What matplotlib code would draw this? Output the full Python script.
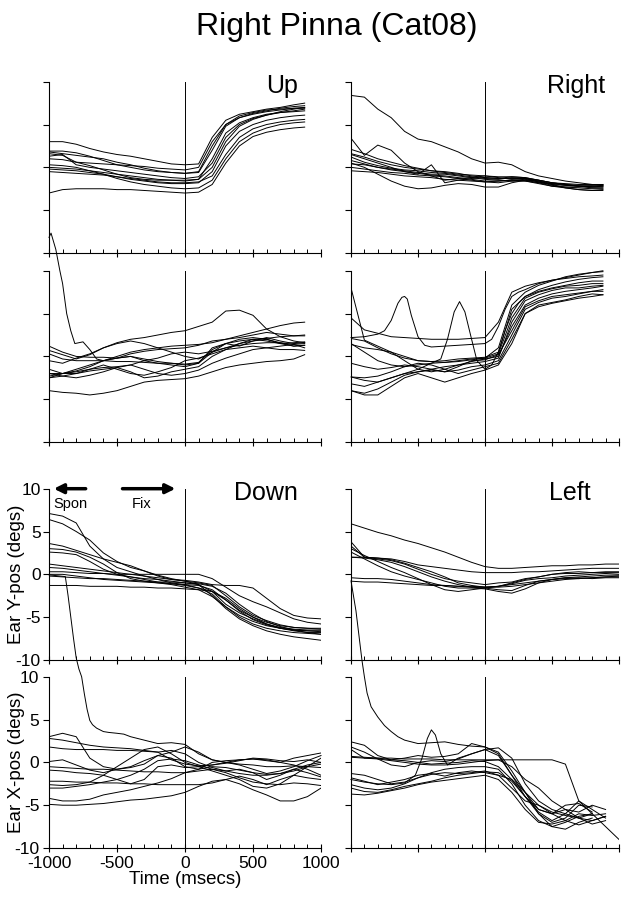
import numpy as np
import matplotlib
matplotlib.use('Agg')
import matplotlib.pyplot as plt
from matplotlib.ticker import MultipleLocator

plt.rcParams['font.family'] = ['Liberation Sans', 'DejaVu Sans']
plt.rcParams['axes.unicode_minus'] = False

nan = np.nan

# time grids (msecs)
t_top = [-1000, -900, -800, -700, -600, -500, -400, -300, -200, -100,
         0, 100, 200, 300, 400, 500, 600, 700, 800, 880]
t_bot = [-1000, -900, -800, -700, -600, -500, -400, -300, -200, -100,
         0, 100, 200, 300, 400, 500, 600, 700, 800, 900, 1000]

# ---- Up : ear Y-pos traces (degs)
up_y = [
    [3.0, 3.0, 2.7, 2.2, 1.8, 1.5, 1.3, 1.0, 0.7, 0.4, 0.3, 0.4, 3.5, 5.5, 6.2, 6.5, 6.8, 7.0, 7.3, 7.5],
    [1.9, 1.9, 1.7, 1.3, 0.8, 0.3, 0.0, -0.3, -0.5, -0.6, -0.7, -0.6, 2.0, 4.8, 5.8, 6.3, 6.6, 6.9, 7.1, 7.2],
    [1.6, 1.4, 0.6, 0.5, 0.4, 0.3, 0.2, 0.1, -0.1, -0.2, -0.3, 0.0, 3.0, 5.0, 5.8, 6.2, 6.5, 6.7, 6.9, 7.0],
    [1.3, 1.5, 0.3, 0.0, -0.2, -0.4, -0.6, -0.8, -1.0, -1.2, -1.3, -1.1, 0.5, 3.5, 5.0, 5.7, 6.1, 6.4, 6.6, 6.8],
    [1.0, 0.9, 0.6, 0.2, -0.3, -0.8, -1.2, -1.4, -1.5, -1.5, -1.5, -1.4, 0.0, 3.0, 4.8, 5.6, 6.1, 6.5, 6.8, 7.0],
    [0.0, -0.1, -0.2, -0.4, -0.6, -0.8, -1.0, -1.2, -1.4, -1.5, -1.6, -1.4, 1.0, 4.0, 5.2, 5.8, 6.2, 6.4, 6.5, 6.6],
    [-0.2, -0.3, -0.4, -0.6, -0.8, -1.1, -1.4, -1.6, -1.8, -1.9, -1.9, -1.8, -0.5, 2.5, 4.2, 5.0, 5.5, 5.8, 6.0, 6.1],
    [-0.5, -0.6, -0.7, -0.8, -0.9, -1.1, -1.3, -1.5, -1.7, -1.8, -1.8, -1.7, -1.0, 1.5, 3.5, 4.5, 5.0, 5.3, 5.5, 5.6],
    [-3.0, -2.6, -2.5, -2.5, -2.5, -2.6, -2.6, -2.7, -2.8, -2.9, -3.0, -2.9, -2.0, 0.5, 2.5, 3.6, 4.1, 4.4, 4.6, 4.7],
    [0.3, 0.2, 0.0, -0.4, -0.8, -1.3, -1.7, -2.0, -2.2, -2.4, -2.5, -2.4, -1.5, 1.0, 3.0, 4.0, 4.6, 5.0, 5.2, 5.3],
    [1.8, 1.6, 1.4, 1.2, 1.0, 0.6, 0.3, -0.1, -0.4, -0.6, -0.7, -0.5, 2.5, 5.0, 6.0, 6.4, 6.7, 6.8, 6.9, 6.9],
]
# ---- Up : ear X-pos traces
up_x = [
    [0.7, 0.2, -0.3, 0.2, 1.0, 1.6, 2.0, 2.2, 2.5, 2.8, 3.0, 3.5, 4.0, 5.3, 5.4, 4.8, 3.2, 2.3, 1.8, 1.6],
    [-2.3, -2.0, -1.5, -1.0, -0.5, 0.0, 0.5, 0.8, 1.0, 1.2, 1.3, 1.4, 1.6, 2.0, 2.4, 2.8, 3.2, 3.6, 3.9, 4.0],
    [1.2, 0.5, 0.0, -0.1, -0.1, -0.2, 0.0, -0.5, -0.8, -1.0, -1.2, -0.8, 1.0, 1.5, 1.2, 1.8, 2.2, 1.8, 1.5, 1.6],
    [-0.5, -0.8, -0.2, 0.3, 1.0, 1.5, 1.8, 1.5, 1.0, 0.5, 0.0, -0.3, 0.5, 1.5, 2.0, 2.2, 2.0, 1.5, 1.2, 1.3],
    [-2.0, -2.0, -1.7, -1.2, -0.5, -0.2, 0.0, -0.3, -0.6, -0.8, -1.0, -0.8, 0.5, 1.0, 1.3, 1.5, 1.6, 1.6, 1.4, 1.5],
    [-2.5, -2.3, -2.0, -1.5, -1.0, -1.5, -2.0, -2.2, -1.8, -1.3, -0.5, -0.2, 0.3, 0.8, 1.0, 1.2, 1.0, 1.2, 1.4, 1.0],
    [-4.0, -4.2, -4.3, -4.5, -4.3, -4.0, -3.5, -3.0, -2.8, -2.7, -2.6, -2.3, -1.8, -1.3, -1.0, -0.8, -0.6, -0.5, -0.3, 0.2],
    [-1.5, -2.0, -2.0, -1.7, -1.5, -1.3, -1.0, -1.5, -2.0, -2.2, -2.0, -1.6, -0.8, -0.2, 0.3, 0.8, 1.0, 0.8, 0.8, 0.7],
    [-2.0, -2.3, -2.5, -2.2, -1.8, -1.3, -1.8, -2.5, -2.3, -1.8, -1.5, -1.2, 0.0, 0.8, 1.5, 2.0, 1.8, 1.5, 1.6, 1.7],
    [0.3, -0.3, -0.5, -0.5, -0.5, -0.6, -0.6, -0.7, -0.8, -0.8, -0.9, -0.7, 0.8, 1.5, 1.8, 2.0, 2.1, 2.3, 2.4, 2.5],
    [-2.5, -2.0, -1.8, -1.5, -1.3, -1.2, -1.0, -0.5, -0.2, 0.3, 0.5, 0.3, 0.6, 1.0, 1.5, 1.8, 2.0, 1.6, 1.2, 1.3],
]
up_spike_t = [-1000, -985, -950, -920, -900, -870, -840, -810, -780, -750, -700, -650, -600, -500,
              -400, -300, -200, -100, 0, 100, 200, 300, 400, 500, 600, 700, 800, 880]
up_spike = [13.9, 14.4, 12.5, 10.0, 8.5, 5.0, 3.0, 1.5, 1.6, 1.7, 0.8, -0.3, -0.5, -0.2,
            0.3, 0.6, 0.8, 0.9, 1.0, 1.3, 1.8, 2.0, 2.2, 2.5, 2.8, 2.6, 2.4, 2.4]

# ---- Right : ear Y-pos traces
right_y = [
    [8.4, 8.2, 6.8, 5.8, 4.2, 3.3, 3.0, 2.4, 1.8, 1.0, 0.5, 0.6, 0.3, -0.5, -1.0, -1.3, -1.6, -1.8, -2.0, -2.1],
    [3.4, 1.4, 2.6, 2.0, 0.5, -0.5, -1.0, -1.5, -1.3, -1.2, -1.0, -1.2, -1.4, -1.3, -1.5, -1.8, -2.0, -2.2, -2.3, -2.3],
    [1.5, 1.0, 0.5, 0.0, -0.5, -0.8, 0.3, -1.8, -1.5, -1.3, -1.2, -1.3, -1.1, -1.2, -1.5, -1.8, -2.0, -2.2, -2.2, -2.2],
    [0.5, 0.0, -0.8, -1.6, -2.2, -2.5, -2.4, -2.1, -1.9, -2.0, -2.3, -2.3, -1.8, -1.5, -1.6, -2.0, -2.4, -2.6, -2.7, -2.6],
    [2.1, 1.6, 1.0, 0.6, 0.2, -0.1, -0.4, -0.6, -0.8, -0.9, -1.0, -1.1, -1.1, -1.2, -1.5, -1.8, -1.9, -2.0, -2.0, -2.0],
    [1.6, 1.2, 0.7, 0.3, 0.0, -0.2, -0.4, -0.5, -0.7, -1.0, -1.2, -1.3, -1.3, -1.3, -1.6, -1.9, -2.1, -2.2, -2.3, -2.2],
    [1.2, 0.6, 0.2, -0.1, -0.3, -0.4, -0.6, -0.7, -0.9, -1.1, -1.3, -1.4, -1.2, -1.3, -1.7, -2.0, -2.1, -2.2, -2.4, -2.4],
    [0.8, 0.4, 0.0, -0.2, -0.4, -0.6, -0.8, -0.8, -1.0, -1.2, -1.4, -1.5, -1.6, -1.6, -1.8, -1.9, -2.0, -2.1, -2.1, -2.0],
    [0.4, 0.3, 0.0, -0.3, -0.5, -0.7, -0.9, -1.0, -1.2, -1.4, -1.6, -1.6, -1.5, -1.4, -1.7, -2.1, -2.3, -2.4, -2.5, -2.5],
    [0.0, -0.2, -0.4, -0.6, -0.7, -0.9, -1.0, -1.1, -1.3, -1.5, -1.7, -1.8, -1.6, -1.5, -1.8, -2.2, -2.4, -2.6, -2.7, -2.7],
    [-0.4, -0.5, -0.6, -0.8, -1.0, -1.1, -1.2, -1.4, -1.5, -1.6, -1.7, -1.6, -1.5, -1.6, -1.9, -2.2, -2.3, -2.3, -2.2, -2.1],
]
# ---- Right : ear X-pos traces
right_x = [
    [8.0, 1.9, 1.2, 0.5, 0.0, -0.5, -0.6, -0.7, -0.6, -0.4, -0.2, 1.0, 6.0, 7.5, 8.3, 8.8, 9.3, 9.6, 9.8, 9.9],
    [4.5, 3.1, 2.7, 2.3, 2.2, 2.1, 2.0, 2.0, 2.0, 2.1, 2.2, 4.0, 7.5, 8.2, 8.6, 8.9, 9.1, 9.3, 9.4, 9.5],
    [2.1, 1.8, 1.0, 0.3, -0.2, -0.5, -0.6, -0.5, -0.3, -0.2, -0.1, 0.5, 5.5, 7.0, 7.6, 8.0, 8.3, 8.6, 8.8, 8.8],
    [1.5, 0.5, -0.5, -1.0, -1.2, -1.0, -0.8, -0.7, -0.5, -0.3, -0.2, 0.3, 4.5, 6.8, 7.5, 7.9, 8.2, 8.3, 8.5, 8.5],
    [1.4, 1.0, 0.8, 0.5, -0.5, -1.5, -1.8, -1.5, -1.0, -0.6, -0.3, 0.0, 3.5, 6.0, 6.8, 7.3, 7.6, 7.8, 8.0, 8.2],
    [-0.8, -1.2, -1.5, -1.3, -1.0, -1.2, -1.5, -1.8, -1.2, -0.5, -0.4, 0.2, 3.0, 5.8, 6.5, 7.0, 7.2, 7.4, 7.6, 7.6],
    [-2.4, -2.5, -2.3, -1.8, -1.2, -0.8, -1.0, -1.5, -2.0, -1.6, -1.2, -0.8, 2.0, 5.0, 6.0, 6.3, 6.6, 7.0, 7.3, 7.2],
    [-3.2, -3.5, -3.0, -2.5, -2.0, -1.8, -1.5, -1.2, -1.0, -0.8, -0.6, -0.2, 4.0, 6.5, 7.2, 7.7, 8.0, 8.0, 8.2, 8.3],
    [-4.0, -4.3, -3.8, -3.0, -2.2, -1.8, -1.6, -1.8, -1.6, -1.2, -1.0, -0.5, 2.5, 5.5, 6.3, 6.8, 7.0, 7.3, 7.6, 7.8],
    [-4.0, -4.5, -4.5, -3.5, -2.5, -2.0, -2.5, -3.0, -2.5, -2.0, -1.6, -1.0, 1.5, 5.0, 5.8, 6.2, 6.5, 6.8, 7.0, 7.2],
]
# two X-pos traces with sharp peaks before the stimulus (finer time steps)
right_peak1_t = [-1000, -900, -800, -750, -700, -650, -620, -600, -580, -550, -500, -450, -400, -300,
                 -200, -100, 0, 50, 100, 150, 200, 250, 300, 400, 500, 600, 700, 800, 880]
right_peak1 = [2.2, 2.3, 2.6, 3.0, 4.2, 6.2, 6.9, 7.0, 6.7, 4.8, 2.3, 1.3, 1.1, 1.2,
               1.3, 1.4, 1.5, 2.0, 3.5, 5.5, 7.0, 7.5, 7.8, 8.5, 8.9, 9.2, 9.5, 9.8, 10.0]
right_peak2_t = [-1000, -900, -800, -700, -600, -500, -400, -330, -280, -230, -190, -150, -100, -60,
                 0, 50, 100, 150, 200, 250, 300, 400, 500, 600, 700, 800, 880]
right_peak2 = [-2.4, -2.8, -3.0, -2.5, -2.0, -1.5, -0.8, -0.3, 2.0, 5.2, 6.4, 5.2, 2.0, -0.5,
               -1.5, -1.0, 0.5, 3.0, 5.0, 6.2, 7.0, 7.8, 8.3, 8.7, 9.0, 9.2, 9.3]

# ---- Down : ear Y-pos traces
down_y = [
    [7.1, 6.8, 6.0, 3.3, 1.8, 0.8, 0.3, -0.2, -0.6, -1.0, -1.2, -1.6, -2.3, -3.8, -5.0, -5.8, -6.3, -6.6, -6.8, -6.9, -7.0],
    [6.4, 5.9, 5.0, 4.0, 2.5, 1.5, 0.8, 0.4, -0.2, -0.6, -0.8, -1.0, -1.3, -2.5, -3.8, -4.8, -5.4, -5.9, -6.2, -6.3, -6.4],
    [3.6, 3.3, 2.8, 2.3, 1.8, 1.4, 1.0, 0.4, -0.1, -0.5, -0.8, -1.2, -2.0, -3.5, -4.5, -5.2, -5.8, -6.2, -6.4, -6.5, -6.5],
    [3.0, 2.9, 2.6, 2.0, 1.2, 0.2, -0.5, -0.8, -1.0, -1.2, -1.5, -1.8, -2.6, -3.8, -4.8, -5.5, -6.0, -6.3, -6.5, -6.6, -6.6],
    [2.6, 2.5, 2.3, 1.5, 0.6, 0.0, -0.3, -0.6, -0.9, -1.1, -1.3, -1.6, -2.0, -2.8, -4.0, -5.0, -5.8, -6.3, -6.6, -6.8, -6.8],
    [1.2, 1.0, 0.8, 0.6, 0.4, 0.2, 0.0, -0.2, -0.4, -0.6, -0.7, -0.9, -1.2, -1.3, -1.3, -1.6, -2.8, -4.0, -4.8, -5.1, -5.2],
    [0.8, 0.7, 0.5, 0.3, 0.1, -0.1, -0.3, -0.5, -0.6, -0.8, -1.0, -1.1, -1.4, -2.2, -3.5, -4.6, -5.5, -6.1, -6.5, -6.8, -7.0],
    [0.3, 0.3, 0.2, 0.1, 0.1, 0.0, 0.0, 0.0, 0.0, 0.0, 0.0, 0.0, -0.5, -1.5, -2.5, -3.2, -3.8, -4.5, -5.2, -5.6, -5.8],
    [0.0, 0.0, -0.2, -0.4, -0.6, -0.7, -0.8, -0.9, -1.0, -1.1, -1.2, -1.3, -1.8, -3.0, -4.2, -5.0, -5.6, -6.0, -6.2, -6.3, -6.3],
    [-0.2, -0.3, -0.4, -0.5, -0.5, -0.6, -0.7, -0.8, -0.9, -0.9, -1.0, -1.2, -2.5, -4.0, -5.2, -6.0, -6.6, -7.0, -7.3, -7.5, -7.7],
    [-1.3, -1.3, -1.3, -1.4, -1.4, -1.4, -1.5, -1.5, -1.6, -1.6, -1.7, -1.8, -2.0, -3.0, -4.3, -5.3, -5.9, -6.3, -6.5, -6.6, -6.7],
]
# ---- Down : ear X-pos traces
down_x = [
    [3.0, 3.4, 3.0, 0.5, -0.5, -0.8, -0.6, -0.2, 0.8, 0.5, -0.5, -0.8, 0.0, 0.2, 0.3, 0.4, 0.2, 0.0, 0.5, 0.8, 1.1],
    [2.8, 2.6, 2.3, 2.0, 1.8, 1.7, 1.6, 1.4, 1.2, 1.4, 1.0, 0.0, -0.6, -1.0, -0.8, -1.2, -2.0, -1.5, -0.8, -1.2, -1.7],
    [1.8, 1.6, 1.5, 1.5, 1.5, 1.4, 1.4, 1.3, 1.2, 0.3, -0.2, -0.4, -0.3, -0.1, 0.2, 0.5, 0.4, 0.2, 0.1, 0.3, 0.0],
    [0.1, 0.3, -0.3, -0.9, -1.2, -0.8, -0.5, 0.2, 0.8, 1.2, 1.8, 1.2, 0.3, 0.0, -0.2, -0.3, -0.5, -0.5, -0.4, -0.5, -0.6],
    [-0.5, -0.6, -0.7, -0.8, -0.8, -0.9, -1.0, -1.1, -1.1, -1.2, -1.2, -1.0, -0.8, -1.0, -1.3, -1.5, -1.5, -1.3, -0.8, -0.3, 0.0],
    [-0.9, -1.0, -1.2, -1.3, -1.5, -2.0, -2.5, -2.0, -0.5, -0.3, -0.6, -0.5, -0.3, 0.0, 0.3, 0.4, 0.3, 0.0, -0.3, -0.8, -1.5],
    [-2.2, -2.2, -2.3, -2.3, -2.4, -2.4, -2.5, -2.5, -2.6, -2.6, -2.6, -2.6, -2.4, -2.0, -1.6, -2.0, -2.6, -2.0, -1.5, -1.8, -2.0],
    [-2.6, -2.7, -2.6, -2.3, -1.5, -0.5, 0.5, 1.5, 1.8, 1.0, 0.0, -0.5, -1.0, -1.5, -2.0, -2.8, -3.0, -2.5, -1.5, -0.5, 0.5],
    [-3.0, -3.0, -2.8, -2.6, -2.3, -2.0, -1.5, -0.8, 0.2, 0.4, 0.2, -0.3, -0.8, -1.2, -1.8, -2.3, -2.5, -2.6, -2.4, -2.5, -2.7],
    [-4.2, -4.5, -4.5, -4.3, -3.8, -3.5, -3.2, -2.8, -2.4, -1.9, -1.2, -0.8, -0.5, -0.6, -0.9, -1.2, -1.4, -1.3, -1.0, -0.5, -0.2],
    [-4.9, -5.0, -5.0, -4.9, -4.8, -4.6, -4.4, -4.3, -4.1, -3.9, -3.5, -2.8, -2.2, -2.0, -2.5, -3.2, -3.8, -4.5, -4.5, -4.0, -3.0],
]
down_spike_t = [-1000, -880, -860, -840, -820, -800, -780, -760, -740, -720, -700, -680, -650, -600, -560,
                -500, -450, -400, -300, -200, -100, 0, 100, 200, 300, 400, 500, 600, 700, 800, 900, 1000]
down_spike = [21.9, 21.7, 19.5, 17.0, 14.5, 12.2, 10.9, 10.0, 8.0, 6.2, 4.9, 4.4, 4.0, 3.6, 3.5,
              3.4, 3.3, 3.0, 2.6, 2.2, 2.3, 2.1, 1.0, 0.3, 0.0, -0.3, -0.8, -1.3, -1.0, -0.5, 0.2, 0.8]

# ---- Left : ear Y-pos traces
left_y = [
    [5.9, 5.4, 4.9, 4.5, 4.0, 3.6, 3.1, 2.6, 2.0, 1.4, 0.9, 0.7, 0.7, 0.8, 0.9, 1.0, 1.0, 1.1, 1.1, 1.2, 1.2],
    [2.0, 2.0, 1.9, 1.8, 1.5, 1.1, 0.9, 0.7, 0.5, 0.3, 0.2, 0.2, 0.2, 0.3, 0.3, 0.4, 0.5, 0.6, 0.7, 0.7, 0.7],
    [3.8, 2.0, 1.8, 1.6, 1.2, 0.6, 0.0, -0.5, -0.8, -1.0, -1.2, -1.0, -0.9, -0.5, -0.3, 0.0, 0.2, 0.3, 0.2, 0.3, 0.3],
    [3.3, 2.0, 1.9, 1.7, 1.3, 0.8, 0.3, -0.3, -1.0, -1.3, -1.5, -1.4, -1.1, -0.7, -0.5, -0.4, -0.2, -0.1, 0.0, 0.1, 0.0],
    [3.0, 2.2, 1.5, 0.8, 0.2, -0.5, -1.2, -1.8, -2.0, -1.8, -1.6, -1.8, -1.9, -1.3, -0.8, -0.6, -0.4, -0.3, -0.2, -0.1, -0.1],
    [2.6, 1.8, 1.0, 0.3, -0.2, -0.6, -1.0, -1.4, -1.6, -1.6, -1.7, -2.0, -2.2, -1.7, -1.0, -0.6, -0.4, -0.5, -0.4, -0.3, -0.2],
    [-0.4, -0.5, -0.5, -0.6, -0.8, -1.0, -1.2, -1.3, -1.4, -1.4, -1.5, -1.5, -1.4, -1.2, -1.0, -0.8, -0.6, -0.5, -0.4, -0.3, -0.3],
    [-0.8, -0.9, -0.9, -1.0, -1.1, -1.2, -1.3, -1.3, -1.4, -1.5, -1.5, -1.4, -1.2, -1.0, -0.8, -0.6, -0.5, -0.4, -0.5, -0.4, -0.4],
    [2.0, 1.9, 1.7, 1.4, 0.9, 0.3, -0.3, -0.8, -1.2, -1.5, -1.6, -1.4, -1.0, -0.6, -0.3, 0.0, 0.1, 0.1, 0.2, 0.2, 0.2],
]
# ---- Left : ear X-pos traces
left_x = [
    [0.6, 0.5, 0.5, 0.5, 0.4, 0.4, 0.4, 0.3, 0.3, 0.3, 0.3, 0.3, 0.3, 0.3, 0.3, 0.3, -0.2, -4.5, -6.0, -7.5, -9.0],
    [2.4, 2.0, 0.8, 0.3, 0.5, 0.8, 0.6, 0.7, 1.0, 2.2, 1.8, 1.2, -1.0, -3.5, -6.0, -7.0, -6.5, -5.0, -5.2, nan, nan],
    [1.8, 1.2, 0.4, -0.3, -0.5, 0.0, 0.2, 0.1, 0.4, 1.0, 1.5, 1.7, 0.5, -2.5, -4.5, -5.5, -6.0, -6.5, -6.8, -6.3, nan],
    [1.5, 0.5, 0.4, 0.2, 0.0, -0.2, -0.3, -0.3, -0.2, 0.0, 0.2, 0.3, -0.5, -2.0, -3.0, -4.5, -5.5, -5.8, -5.0, -5.5, nan],
    [0.7, 0.6, 0.5, 0.3, 0.2, 0.0, -0.2, -0.1, 0.0, 0.2, 0.1, -0.5, -2.0, -4.0, -5.8, -6.8, -6.0, -4.5, -5.5, -6.5, nan],
    [-1.3, -1.5, -2.0, -2.5, -2.3, -1.8, -1.2, -0.8, -0.6, -0.5, -0.5, -0.8, -2.5, -5.0, -6.8, -7.5, -7.0, -6.3, -6.0, nan, nan],
    [-1.8, -2.2, -2.6, -2.3, -2.0, -1.5, -1.3, -1.6, -1.2, -1.0, -1.2, -1.5, -2.0, -3.5, -5.5, -6.0, -5.5, -6.5, -7.2, -6.8, nan],
    [-2.6, -3.0, -3.2, -3.0, -2.5, -1.8, -1.4, -1.2, -1.3, -1.2, -1.0, -1.5, -3.0, -4.5, -5.0, -6.0, -6.8, -7.3, -6.8, -6.3, nan],
    [-3.0, -3.4, -3.5, -3.2, -2.8, -2.5, -2.2, -1.8, -1.5, -1.3, -1.1, -1.2, -2.2, -4.0, -6.0, -7.5, -7.8, -7.0, -6.5, nan, nan],
    [-3.7, -3.8, -3.6, -3.3, -3.0, -2.6, -2.3, -2.1, -1.9, -1.7, -1.5, -2.0, -3.5, -5.5, -7.0, -7.2, -6.8, -6.0, -6.2, -6.0, nan],
]
left_bump_t = [-1000, -900, -800, -700, -600, -520, -470, -430, -400, -370, -330, -280, -200, -100,
               0, 100, 200, 300, 400, 500, 600, 700, 800]
left_bump = [-2.0, -2.3, -2.5, -2.6, -2.4, -1.5, 0.5, 2.8, 3.8, 3.2, 1.0, -0.3, 0.5, 1.0,
             1.5, 0.8, -1.5, -3.5, -5.0, -5.8, -6.2, -6.5, -6.0]
left_spike_t = [-1000, -963, -918, -900, -880, -850, -800, -750, -700, -650, -600, -500, -400,
                -300, -200, -100, 0, 100, 200, 300, 400, 500, 600, 700, 800]
left_spike = [21.2, 17.7, 11.9, 10.0, 8.1, 6.5, 5.3, 4.3, 3.6, 3.0, 2.6, 2.2, 2.3,
              2.4, 2.1, 1.9, 1.8, 1.0, -1.5, -4.0, -5.5, -6.0, -5.0, -4.8, -5.8]

# figure geometry (fractions of a 625 x 899 px figure)
fig = plt.figure(figsize=(6.25, 8.99), dpi=100)
col_x = [0.0784, 0.5616]
col_w = [0.4352, 0.4288]
row_b = [0.7186, 0.5083, 0.2659, 0.0567]
row_h = 0.1905

LW = 0.7


def style_axes(ax):
    for s in ['top', 'right']:
        ax.spines[s].set_visible(False)
    for s in ['left', 'bottom']:
        ax.spines[s].set_linewidth(0.8)
    ax.set_xlim(-1000, 1000)
    ax.set_ylim(-10, 10)
    ax.set_xticks([-1000, -500, 0, 500, 1000])
    ax.xaxis.set_minor_locator(MultipleLocator(100))
    ax.set_yticks([-10, -5, 0, 5, 10])
    ax.tick_params(axis='x', which='major', direction='inout', length=6, width=0.8)
    ax.tick_params(axis='x', which='minor', direction='in', length=3, width=0.7)
    ax.tick_params(axis='y', which='major', direction='out', length=4, width=0.8)
    ax.axvline(0, color='black', lw=0.7)
    ax.tick_params(labelbottom=False, labelleft=False)


def draw_panel(col, row, ty, ys, tx, xs, extra, name, name_t):
    ax_y = fig.add_axes([col_x[col], row_b[row], col_w[col], row_h])
    ax_x = fig.add_axes([col_x[col], row_b[row + 1], col_w[col], row_h])
    for ax in (ax_y, ax_x):
        style_axes(ax)
    for tr in ys:
        ax_y.plot(ty, tr, color='black', lw=LW)
    for tr in xs:
        ax_x.plot(tx, tr, color='black', lw=LW)
    # X-pos traces on their own time base; the big ones run up past the axes
    for et, ev in extra:
        ax_x.plot(et, ev, color='black', lw=LW, clip_on=False)
    ax_y.text(name_t, 8.7, name, ha='right', va='baseline', fontsize=18)
    return ax_y, ax_x


draw_panel(0, 0, t_top, up_y, t_top, up_x, [(up_spike_t, up_spike)], 'Up', 830)
draw_panel(1, 0, t_top, right_y, t_top, right_x,
           [(right_peak1_t, right_peak1), (right_peak2_t, right_peak2)], 'Right', 895)
ay, ax = draw_panel(0, 2, t_bot, down_y, t_bot, down_x, [(down_spike_t, down_spike)], 'Down', 830)
draw_panel(1, 2, t_bot, left_y, t_bot, left_x,
           [(left_bump_t, left_bump), (left_spike_t, left_spike)], 'Left', 785)

# labelled axes in the lower left panel
for a in (ay, ax):
    a.tick_params(labelleft=True, labelsize=12.5, pad=2)
ax.tick_params(labelbottom=True, labelsize=12.5, pad=3)
ay.set_ylabel('Ear Y-pos (degs)', fontsize=13.5)
ax.set_ylabel('Ear X-pos (degs)', fontsize=13.5)
ay.yaxis.set_label_coords(-0.09, 0.5)
ax.yaxis.set_label_coords(-0.09, 0.5)
ax.set_xlabel('Time (msecs)', fontsize=13.5, labelpad=0)

# Spon / Fix arrows
ay.annotate('', xy=(-985, 10), xytext=(-710, 10),
            arrowprops=dict(arrowstyle='-|>', lw=2.5, color='black', mutation_scale=14),
            annotation_clip=False)
ay.annotate('', xy=(-50, 10), xytext=(-480, 10),
            arrowprops=dict(arrowstyle='-|>', lw=2.5, color='black', mutation_scale=14),
            annotation_clip=False)
ay.text(-846, 7.8, 'Spon', ha='center', va='baseline', fontsize=10.5)
ay.text(-316, 7.8, 'Fix', ha='center', va='baseline', fontsize=10.5)

fig.text(337 / 625, 1 - 35 / 899, 'Right Pinna (Cat08)', ha='center', va='baseline', fontsize=23)

fig.savefig('out.png', dpi=100)
